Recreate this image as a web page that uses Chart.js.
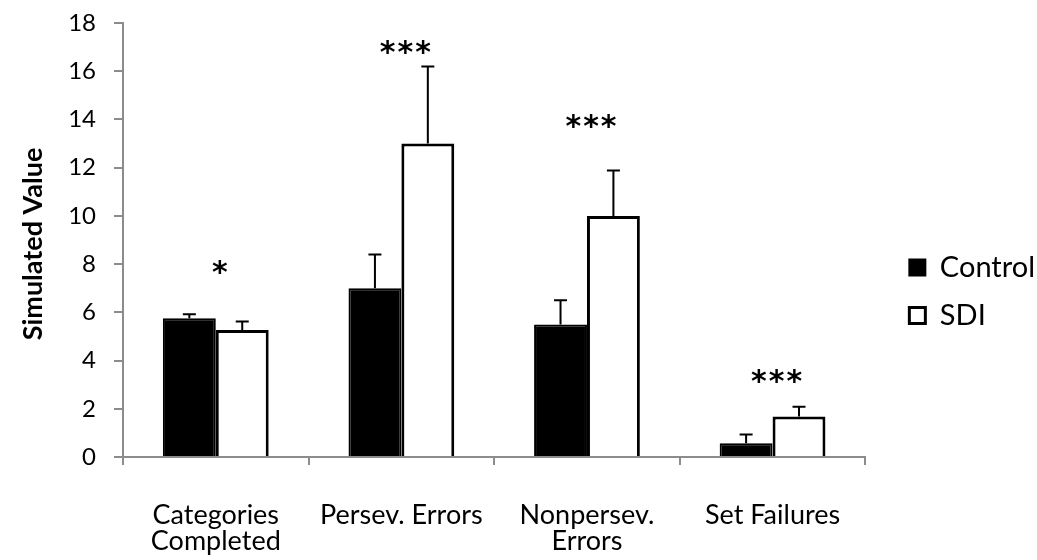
<!DOCTYPE html>
<html>
<head>
<meta charset="utf-8">
<script src="https://cdn.jsdelivr.net/npm/chart.js@4/dist/chart.umd.min.js"></script>
<style>
  html, body { margin: 0; padding: 0; background: #fff; }
  .chart-container { width: 1037px; height: 560px; }
</style>
</head>
<body>
<div class="chart-container">
  <canvas id="chart" width="1037" height="560"></canvas>
</div>
<script>
const categories = [['Categories', 'Completed'], 'Persev. Errors', ['Nonpersev.', 'Errors'], 'Set Failures'];
const controlValues = [5.75, 7.0, 5.5, 0.57];
const controlErrors = [0.17, 1.4, 1.0, 0.36];
const sdiValues = [5.27, 13.0, 10.0, 1.68];
const sdiErrors = [0.35, 3.2, 1.88, 0.4];
const sigMarks = ['*', '***', '***', '***'];
const sigLevels = [7.8, 16.9, 13.85, 3.25];
const yTicks = [0, 2, 4, 6, 8, 10, 12, 14, 16, 18];
const yTitle = 'Simulated Value';

const FONT = 'Lato, "DejaVu Sans", sans-serif';
const axisGray = '#8c8c8c';

// upward error bars with caps
const errorBars = {
  id: 'errorBars',
  afterDatasetsDraw(chart) {
    const ctx = chart.ctx;
    const y = chart.scales.y;
    ctx.save();
    ctx.strokeStyle = '#000';
    ctx.lineWidth = 2;
    chart.data.datasets.forEach((ds, di) => {
      const meta = chart.getDatasetMeta(di);
      meta.data.forEach((bar, i) => {
        const top = y.getPixelForValue(ds.data[i] + ds.errors[i]);
        const base = y.getPixelForValue(ds.data[i]);
        ctx.beginPath();
        ctx.moveTo(bar.x, base);
        ctx.lineTo(bar.x, top);
        ctx.moveTo(bar.x - 6.5, top);
        ctx.lineTo(bar.x + 6.5, top);
        ctx.stroke();
      });
    });
    ctx.restore();
  }
};

// significance stars over each category, plus the y title
const annotations = {
  id: 'annotations',
  afterDraw(chart) {
    const ctx = chart.ctx;
    const x = chart.scales.x;
    const y = chart.scales.y;
    const area = chart.chartArea;
    ctx.save();
    ctx.fillStyle = '#000';
    ctx.font = 'bold 30px "DejaVu Sans", sans-serif';
    ctx.letterSpacing = '2px';
    ctx.textAlign = 'center';
    ctx.textBaseline = 'middle';
    sigMarks.forEach((m, i) => {
      ctx.fillText(m, x.getPixelForValue(i) + 5, y.getPixelForValue(sigLevels[i]) + 5);
    });
    ctx.letterSpacing = '0px';
    ctx.font = 'bold 27px ' + FONT;
    ctx.translate(33, area.top + area.height / 2 + 4);
    ctx.rotate(-Math.PI / 2);
    ctx.fillText(yTitle, 0, 0);
    ctx.restore();
  }
};

new Chart(document.getElementById('chart'), {
  type: 'bar',
  data: {
    labels: categories,
    datasets: [
      {
        label: 'Control',
        data: controlValues,
        errors: controlErrors,
        backgroundColor: '#000',
        borderColor: '#000',
        borderWidth: 2,
      },
      {
        label: 'SDI',
        data: sdiValues,
        errors: sdiErrors,
        backgroundColor: '#fff',
        borderColor: '#000',
        borderWidth: 3,
      },
    ],
  },
  options: {
    responsive: false,
    animation: false,
    layout: { padding: { top: 23, right: -8, left: 0, bottom: 0 } },
    datasets: { bar: { barPercentage: 1.0, categoryPercentage: 0.57, borderSkipped: 'bottom' } },
    plugins: {
      tooltip: { enabled: false },
      legend: {
        position: 'right',
        labels: {
          boxWidth: 16,
          boxHeight: 16,
          padding: 19,
          color: '#000',
          font: { family: FONT, size: 29 },
        },
      },
    },
    scales: {
      x: {
        grid: { display: true, drawOnChartArea: false, drawTicks: true, tickLength: 8, color: axisGray, lineWidth: 2 },
        border: { display: true, color: axisGray, width: 2 },
        ticks: { color: '#000', font: { family: FONT, size: 27, lineHeight: 0.98 }, padding: 37, maxRotation: 0, autoSkip: false },
        afterFit(scale) { scale.height = 103; },
      },
      y: {
        min: 0,
        max: 18,
        afterBuildTicks(scale) { scale.ticks = yTicks.map(v => ({ value: v })); },
        grid: { display: true, drawOnChartArea: false, drawTicks: true, tickLength: 9, color: axisGray, lineWidth: 2 },
        border: { display: true, color: axisGray, width: 2 },
        ticks: { color: '#000', font: { family: FONT, size: 24, lineHeight: 0.4 }, padding: 18 },
        afterFit(scale) { scale.width = 123; },
      },
      spacer: {
        position: 'right',
        display: true,
        grid: { display: false },
        border: { display: false },
        ticks: { display: false },
        afterFit(scale) { scale.width = 25; },
      },
    },
  },
  plugins: [errorBars, annotations],
});
</script>
</body>
</html>
